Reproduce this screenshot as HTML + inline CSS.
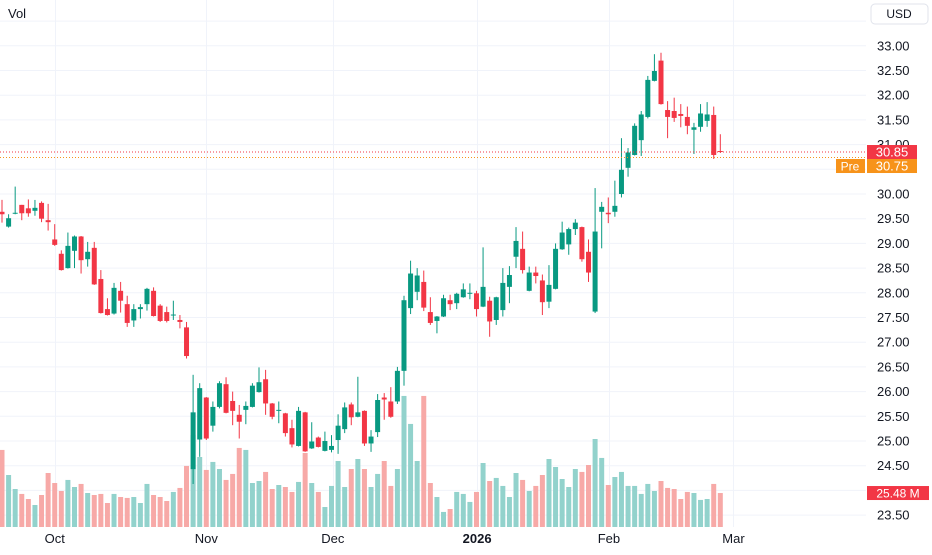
<!DOCTYPE html>
<html><head><meta charset="utf-8"><style>
html,body{margin:0;padding:0;background:#fff;}
body{width:932px;height:550px;overflow:hidden;font-family:"Liberation Sans",sans-serif;}
svg text{font-family:"Liberation Sans",sans-serif;}
</style></head><body>
<svg id="chart" width="932" height="550" xmlns="http://www.w3.org/2000/svg">
<rect x="0" y="0" width="932" height="550" fill="#ffffff"/>
<g id="grid"></g>
<g id="vols"></g>
<g id="candles"></g>
<g id="yaxis"></g>
<g id="xaxis"></g>
<text x="8" y="18" font-size="13" fill="#131722">Vol</text>
<g>
<rect x="871" y="4" width="57" height="20" rx="4" fill="#fff" stroke="#e0e3eb"/>
<text x="899" y="18" font-size="12" fill="#131722" text-anchor="middle">USD</text>
</g>
</svg>
<script>
const opens=[29.64,29.34,29.60,29.78,29.71,29.66,29.82,29.47,29.08,28.79,28.50,28.85,29.14,28.68,28.91,28.28,27.67,27.58,28.04,27.77,27.44,27.67,27.77,28.04,27.74,27.61,27.54,27.45,27.30,24.43,25.03,25.88,25.31,25.69,26.15,25.81,25.53,25.63,25.69,25.99,26.25,25.76,25.62,25.56,25.26,24.90,25.58,24.85,25.07,24.80,24.82,25.02,25.24,25.74,25.49,25.61,24.95,25.18,25.88,25.80,25.80,26.42,27.69,28.02,28.22,27.61,27.43,27.52,27.85,27.79,27.91,27.98,27.99,27.72,27.84,27.45,27.65,28.12,28.73,28.89,28.04,28.41,28.25,27.82,28.08,28.88,28.98,29.29,29.33,28.83,27.62,29.64,29.62,29.64,30.00,30.53,30.79,31.09,31.56,32.29,32.70,31.70,31.68,31.62,31.56,31.30,31.36,31.48,31.60,30.87];
const highs=[29.88,29.59,30.15,29.78,29.89,29.88,29.85,29.80,29.39,28.86,29.22,29.16,29.15,29.03,29.03,28.46,27.89,28.20,28.22,27.94,27.77,27.77,28.10,28.11,27.77,27.72,27.84,27.55,27.41,26.34,26.17,25.89,25.80,26.21,26.29,26.00,25.73,25.80,26.17,26.49,26.44,25.77,25.80,25.57,25.43,25.69,25.59,25.38,25.09,25.19,25.12,25.54,25.78,25.78,26.30,25.62,25.22,25.95,25.97,26.09,26.50,27.94,28.65,28.50,28.45,27.91,27.53,27.96,27.96,28.00,28.19,28.19,28.04,28.92,27.92,27.92,28.50,28.54,29.33,29.24,28.53,28.53,28.37,28.56,29.00,29.44,29.32,29.49,29.34,29.08,30.12,29.84,29.93,30.27,31.13,30.93,31.43,31.68,32.39,32.83,32.86,31.88,31.95,31.82,31.77,31.44,31.82,31.86,31.77,31.21];
const lows=[29.42,29.32,29.59,29.47,29.54,29.56,29.43,29.26,28.95,28.45,28.49,28.50,28.39,28.53,28.16,27.58,27.54,27.56,27.60,27.31,27.31,27.48,27.64,27.52,27.41,27.40,27.45,27.28,26.67,24.13,24.68,25.02,25.19,25.66,25.56,25.32,25.05,25.34,25.68,25.98,25.53,25.44,25.36,25.09,24.87,24.89,24.78,24.84,24.87,24.79,24.77,24.74,25.16,25.32,25.48,24.90,24.78,25.08,25.43,25.47,25.75,26.12,27.57,27.85,27.63,27.35,27.18,27.51,27.65,27.67,27.90,27.87,27.52,27.71,27.11,27.35,27.52,27.79,28.50,28.39,28.03,28.19,27.55,27.69,28.07,28.87,28.77,29.17,28.63,28.22,27.59,28.90,29.41,29.54,29.93,30.35,30.78,30.77,31.53,32.28,31.81,31.13,31.46,31.35,31.21,30.81,31.26,31.36,30.71,30.83];
const closes=[29.59,29.51,29.62,29.61,29.61,29.72,29.50,29.43,28.97,28.46,28.95,29.14,28.66,28.83,28.17,27.59,27.55,28.10,27.84,27.39,27.67,27.71,28.08,27.53,27.43,27.43,27.56,27.41,26.72,25.58,26.07,25.05,25.69,26.17,25.57,25.61,25.39,25.71,26.12,26.19,25.76,25.49,25.63,25.16,24.93,25.61,24.79,24.99,24.88,25.00,24.90,25.31,25.68,25.48,25.58,24.95,25.09,25.83,25.84,25.49,26.42,27.85,28.39,28.35,27.70,27.39,27.52,27.89,27.77,27.98,28.07,28.00,27.67,28.12,27.42,27.91,28.20,28.36,29.05,28.46,28.41,28.34,27.81,28.16,28.89,29.22,29.29,29.42,28.68,28.41,29.24,29.74,29.59,29.76,30.49,30.84,31.38,31.61,32.31,32.49,31.82,31.56,31.54,31.58,31.38,31.35,31.63,31.61,30.79,30.85];
const volumes=[57.8,39,28.5,24.8,21,16.5,24,40.5,33,27,35.3,30,32.3,25.5,24,24.8,18,24.8,22.5,21.8,22.5,18,32.3,24,22.5,19.5,26.3,29.3,45.8,69,52.5,42.8,48.8,43.5,35.3,39.8,59.3,57.8,33,34.5,41.3,28.5,31.5,30,26.3,33.8,55.5,33,26.3,15,30.8,49.5,30,43.5,51,43.5,30,39.8,49.5,30.8,43.5,98.3,77.3,49.5,98.3,33,22.5,11.3,13.5,26.3,24.8,18.8,26.3,48,34.5,36.8,30.8,22.5,40.5,35.3,27,30.8,39,51,45,36,30,43.5,41.3,46.5,66,51.8,31.5,37.5,41.3,30.8,30.8,24.8,32.3,27,34.5,29.3,28.5,21,26.3,25.5,20.3,21,32.3,25.48];
const priceTicks=[33.0,32.5,32.0,31.5,31.0,30.0,29.5,29.0,28.5,28.0,27.5,27.0,26.5,26.0,25.5,25.0,24.5,23.5];
const gridPrices=[33.5,33.0,32.5,32.0,31.5,31.0,30.5,30.0,29.5,29.0,28.5,28.0,27.5,27.0,26.5,26.0,25.5,25.0,24.5,24.0,23.5];
const monthLabels=["Oct","Nov","Dec","2026","Feb","Mar"];
const monthIndex=[8,31,50.2,72.1,92.1,111];
const lastPrice=30.85, prePrice=30.75, lastVolume=25.48;

const NS="http://www.w3.org/2000/svg";
const X0=2, STEP=6.59, PLOT_R=866;
const yP=p=>194-(p-30)*49.4;
const xI=i=>X0+i*STEP;
const VBASE=527, VSCALE=1/0.75;
const yV=v=>VBASE-v*VSCALE;
const UP="#089981", DN="#f23645", UPV="#92d2cc", DNV="#f7a9a7";
function mk(tag,attrs,parent){const e=document.createElementNS(NS,tag);for(const k in attrs)e.setAttribute(k,attrs[k]);parent.appendChild(e);return e;}
const grid=document.getElementById('grid');
gridPrices.forEach(p=>{
  const l=mk('line',{x1:0,x2:PLOT_R,y1:yP(p),y2:yP(p),stroke:'#f0f3fa','stroke-width':1},grid);
  
  
});
monthIndex.forEach(i=>{
  const x=Math.round(xI(i))+0.5;
  if(x<PLOT_R){const l=mk('line',{x1:x,x2:x,y1:0,y2:527,stroke:'#f0f3fa','stroke-width':1},grid);
  
  }
});
const vg=document.getElementById('vols');
volumes.forEach((v,i)=>{
  const up=closes[i]>=opens[i];
  const r=mk('rect',{x:xI(i)-2.5,y:yV(v),width:5,height:VBASE-yV(v),fill:up?UPV:DNV},vg);
  
  
});
const cg=document.getElementById('candles');
opens.forEach((o,i)=>{
  const c=closes[i], up=c>=o, col=up?UP:DN, x=xI(i);
  const g=mk('g',{},cg);
  
  
  mk('line',{x1:x,x2:x,y1:yP(highs[i]),y2:yP(lows[i]),stroke:col,'stroke-width':1},g);
  const top=yP(Math.max(o,c)), bot=yP(Math.min(o,c));
  mk('rect',{x:x-2.5,y:top,width:5,height:Math.max(1,bot-top),fill:col},g);
});
const pl=mk('line',{x1:0,x2:PLOT_R,y1:yP(lastPrice),y2:yP(lastPrice),stroke:DN,'stroke-width':1,'stroke-dasharray':'1,2'},cg);


const pp=mk('line',{x1:0,x2:PLOT_R,y1:yP(prePrice)+0.5,y2:yP(prePrice)+0.5,stroke:'#f7931a','stroke-width':1,'stroke-dasharray':'1,2'},cg);


const ya=document.getElementById('yaxis');
priceTicks.forEach(p=>{
  const t=mk('text',{x:877,y:yP(p)+4.5,'font-size':13,fill:'#131722'},ya);
  t.textContent=p.toFixed(2);
  
  
});
const LY=yP(lastPrice)-7;
const lb=mk('g',{},ya);


mk('rect',{x:867,y:LY,width:50,height:14,fill:DN},lb);
const lt=mk('text',{x:892,y:LY+11.5,'font-size':13,fill:'#fff','text-anchor':'middle'},lb);lt.textContent=lastPrice.toFixed(2);
const PY=LY+14;
const pb=mk('g',{},ya);


mk('rect',{x:836,y:PY,width:29,height:14,fill:'#f7931a'},pb);
mk('rect',{x:867,y:PY,width:50,height:14,fill:'#f7931a'},pb);
const pt1=mk('text',{x:850,y:PY+11.5,'font-size':12,fill:'#fff','text-anchor':'middle'},pb);pt1.textContent='Pre';
const pt2=mk('text',{x:892,y:PY+11.5,'font-size':13,fill:'#fff','text-anchor':'middle'},pb);pt2.textContent=prePrice.toFixed(2);
const vb=mk('g',{},ya);


mk('rect',{x:867,y:yV(lastVolume)-7,width:62,height:14,fill:DN},vb);
const vt=mk('text',{x:898,y:yV(lastVolume)+4.5,'font-size':12,fill:'#fff','text-anchor':'middle'},vb);vt.textContent=lastVolume.toFixed(2)+' M';
const xa=document.getElementById('xaxis');
monthLabels.forEach((m,k)=>{
  const t=mk('text',{x:xI(monthIndex[k]),y:543,'font-size':13,fill:'#131722','text-anchor':'middle','font-weight':m==='2026'?'bold':'normal'},xa);
  t.textContent=m;
  
  
});
</script>
</body></html>
